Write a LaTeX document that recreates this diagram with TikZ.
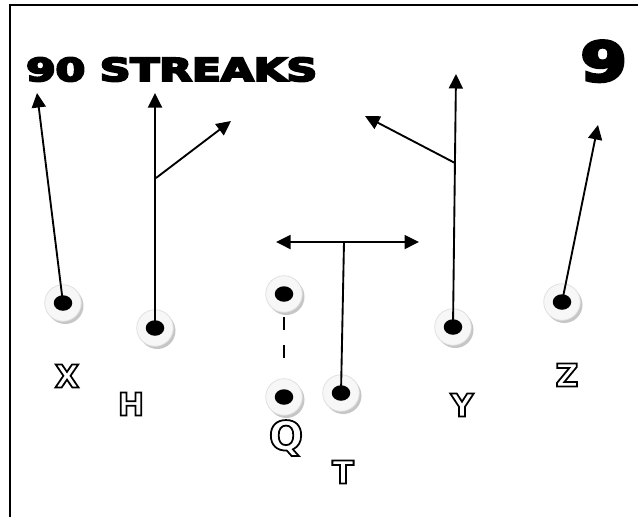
\documentclass[tikz,border=0pt]{standalone}
\usepackage{fontspec}
\setmainfont{DejaVu Sans}
\usetikzlibrary{arrows.meta,shapes.geometric,shadows}

% hollow letters: stroke only, no fill
\newcommand{\rimtext}[1]{\special{pdf:literal direct 1 Tr 2 w}#1\special{pdf:literal direct 0 Tr}}
% heavy letters: fill and stroke
\newcommand{\heavytext}[2]{\special{pdf:literal direct 2 Tr #1 w}#2\special{pdf:literal direct 0 Tr}}

\begin{document}
\begin{tikzpicture}[x=0.4mm,y=-0.4mm,
    ring/.style={circle,minimum size=14.6mm,inner sep=0,fill=gray!6,draw=gray!25,line width=0.3mm,
      drop shadow={shadow xshift=0.9mm,shadow yshift=-1.1mm,fill=gray!45,opacity=1}},
    dot/.style={ellipse,minimum width=7.4mm,minimum height=6.2mm,inner sep=0,fill=black},
    lbl/.style={font=\fontsize{36}{36}\selectfont\bfseries},
    route/.style={line width=0.75mm,-{Triangle[length=5.8mm,width=5.6mm]}}]
  \useasboundingbox (0,0) rectangle (638,517);
  % frame
  \draw[line width=0.8mm] (10,517) -- (10,5) -- (640,5);

  % play name and number
  \node[anchor=base west,inner sep=0,font=\fontsize{36}{36}\selectfont\bfseries] (title) at (26,81)
    {\scalebox{1.34}[1]{\heavytext{2.2}{90 STREAKS}}};
  \node[anchor=base east,inner sep=0,font=\fontsize{62}{62}\selectfont\bfseries] (num) at (627,81)
    {\scalebox{1.22}[1]{\heavytext{3.5}{9}}};

  % players
  \foreach \n/\px/\py in {x/63/303,h/155/328,c/284/294,q/284/397,t/341/393,y/453/327,z/562/302}{
    \node[ring] at (\px,\py) {};
    \node[dot] (\n) at (\px,\py) {};
  }
  \node[lbl] (xl) at (67,376) {\rimtext{X}};
  \node[lbl] (hl) at (131,404) {\rimtext{H}};
  \node[lbl,font=\fontsize{46}{46}\selectfont\bfseries] (ql) at (286,438) {\rimtext{Q}};
  \node[lbl] (tl) at (343,472) {\rimtext{T}};
  \node[lbl] (yl) at (462,405) {\rimtext{Y}};
  \node[lbl] (zl) at (567,375) {\rimtext{Z}};

  % route ends and breaks
  \coordinate (xend) at (37,93);
  \coordinate (hend) at (155,93);
  \coordinate (hbr) at (156,178);
  \coordinate (hout) at (231,121);
  \coordinate (tbr) at (344,242);
  \coordinate (twest) at (276,242);
  \coordinate (teast) at (419,242);
  \coordinate (yend) at (456,74);
  \coordinate (ybr) at (455,163);
  \coordinate (yout) at (365,116);
  \coordinate (zend) at (598,125);

  % routes
  \draw[route] (x.center) -- (xend);
  \draw[route] (h.center) -- (hend);
  \draw[route] (hbr) -- (hout);
  \draw[line width=0.75mm] (t.center) -- (tbr);
  \draw[route,{Triangle[length=5.8mm,width=5.6mm]}-{Triangle[length=5.8mm,width=5.6mm]}] (twest) -- (teast);
  \draw[route] (y.center) -- (yend);
  \draw[route] (ybr) -- (yout);
  \draw[route] (z.center) -- (zend);
  % snap
  \draw[line width=0.75mm,dash pattern=on 5.2mm off 6mm,shorten <=9.2mm,shorten >=14.8mm] (c.center) -- (q.center);
\end{tikzpicture}
\end{document}
